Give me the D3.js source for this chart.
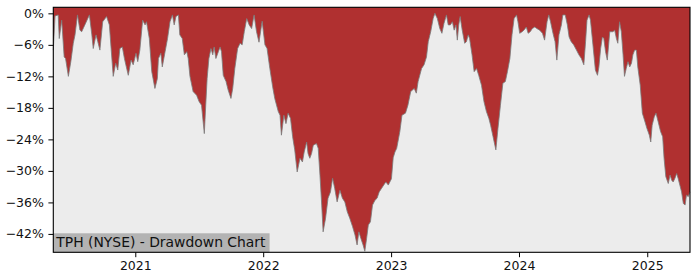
<!DOCTYPE html>
<html>
<head>
<meta charset="utf-8">
<script src="https://cdn.jsdelivr.net/npm/d3@7"></script>
<style>
body { margin: 0; background: #fff; }
svg { display: block; }
text { font-family: "DejaVu Sans", sans-serif; }
</style>
</head>
<body>
<div id="chart"></div>
<script>
// drawdown from running peak, in percent
var dates = [
	// 2020
	"2020-05-12","2020-05-17","2020-05-26","2020-05-29","2020-06-05","2020-06-12","2020-06-16","2020-06-24","2020-07-01","2020-07-08",
	"2020-07-13","2020-07-20","2020-07-27","2020-08-01","2020-08-10","2020-08-23","2020-08-30","2020-09-03","2020-09-11","2020-09-16",
	"2020-09-22","2020-09-30","2020-10-11","2020-10-19","2020-10-24","2020-10-30","2020-11-06","2020-11-12","2020-11-18","2020-11-25",
	"2020-12-01","2020-12-05","2020-12-12","2020-12-20","2020-12-26",
	// 2021
	"2021-01-03","2021-01-08","2021-01-14","2021-01-22","2021-01-29","2021-02-02","2021-02-10","2021-02-17","2021-02-26","2021-03-05",
	"2021-03-08","2021-03-15","2021-03-19","2021-03-27","2021-04-03","2021-04-10","2021-04-17","2021-04-22","2021-04-27","2021-05-04",
	"2021-05-08","2021-05-15","2021-05-21","2021-05-28","2021-06-01","2021-06-06","2021-06-15","2021-06-25","2021-07-02","2021-07-09",
	"2021-07-17","2021-07-21","2021-07-25","2021-07-30","2021-08-05","2021-08-10","2021-08-14","2021-08-19","2021-08-26","2021-08-31",
	"2021-09-04","2021-09-09","2021-09-17","2021-09-23","2021-10-01","2021-10-06","2021-10-12","2021-10-20","2021-10-27","2021-11-02",
	"2021-11-08","2021-11-15","2021-11-22","2021-11-29","2021-12-06","2021-12-13","2021-12-20","2021-12-29",
	// 2022
	"2022-01-06","2022-01-12","2022-01-20","2022-01-28","2022-02-03","2022-02-13","2022-02-18","2022-02-22","2022-03-01","2022-03-07",
	"2022-03-13","2022-03-20","2022-03-26","2022-04-01","2022-04-08","2022-04-16","2022-04-23","2022-04-28","2022-05-05","2022-05-09",
	"2022-05-14","2022-05-19","2022-05-24","2022-06-02","2022-06-07","2022-06-12","2022-06-17","2022-06-21","2022-06-28","2022-07-05",
	"2022-07-12","2022-07-18","2022-07-24","2022-07-31","2022-08-08","2022-08-15","2022-08-22","2022-08-29","2022-09-05","2022-09-13",
	"2022-09-20","2022-09-26","2022-10-01","2022-10-07","2022-10-13","2022-10-18","2022-10-23","2022-10-28","2022-11-03","2022-11-09",
	"2022-11-16","2022-11-22","2022-11-28","2022-12-05","2022-12-11","2022-12-17","2022-12-24",
	// 2023
	"2023-01-02","2023-01-07","2023-01-12","2023-01-17","2023-01-26","2023-02-01","2023-02-11","2023-02-18","2023-02-26","2023-03-08",
	"2023-03-14","2023-03-19","2023-03-29","2023-04-05","2023-04-12","2023-04-17","2023-04-24","2023-05-01","2023-05-06","2023-05-13",
	"2023-05-20","2023-05-26","2023-06-01","2023-06-08","2023-06-13","2023-06-19","2023-06-25","2023-06-30","2023-07-05","2023-07-09",
	"2023-07-13","2023-07-17","2023-07-23","2023-07-30","2023-08-04","2023-08-09","2023-08-13","2023-08-20","2023-08-26","2023-09-02",
	"2023-09-08","2023-09-16","2023-09-23","2023-09-30","2023-10-07","2023-10-12","2023-10-19","2023-10-27","2023-11-02","2023-11-09",
	"2023-11-16","2023-11-23","2023-11-29","2023-12-06","2023-12-12","2023-12-18","2023-12-25","2023-12-29",
	// 2024
	"2024-01-03","2024-01-10","2024-01-15","2024-01-22","2024-01-27","2024-02-02","2024-02-08","2024-02-15","2024-02-21","2024-02-29",
	"2024-03-08","2024-03-14","2024-03-21","2024-03-26","2024-03-31","2024-04-07","2024-04-13","2024-04-18","2024-04-24","2024-05-01",
	"2024-05-05","2024-05-12","2024-05-18","2024-05-23","2024-05-29","2024-06-05","2024-06-13","2024-06-20","2024-06-27","2024-07-04",
	"2024-07-09","2024-07-13","2024-07-19","2024-07-23","2024-07-30","2024-08-06","2024-08-12","2024-08-16","2024-08-21","2024-08-26",
	"2024-08-30","2024-09-04","2024-09-09","2024-09-16","2024-09-25","2024-09-30","2024-10-05","2024-10-09","2024-10-14","2024-10-19",
	"2024-10-24","2024-10-28","2024-11-02","2024-11-07","2024-11-12","2024-11-17","2024-11-21","2024-11-26","2024-12-01","2024-12-05",
	"2024-12-12","2024-12-18","2024-12-24","2024-12-31",
	// 2025
	"2025-01-07","2025-01-11","2025-01-15","2025-01-21","2025-01-26","2025-02-01","2025-02-08","2025-02-14","2025-02-18","2025-02-23",
	"2025-03-02","2025-03-07","2025-03-12","2025-03-16","2025-03-21","2025-03-26","2025-03-30","2025-04-04","2025-04-09","2025-04-14",
	"2025-04-19","2025-04-23","2025-04-28","2025-05-03"
]

var drawdown = [
	// 2020
	-7.0,-0.5,-0.3,-4.8,-1.3,-8.3,-8.6,-12.0,-9.2,-5.7,
	-4.1,-0.3,-3.2,-3.5,-2.2,-0.3,-4.1,-6.7,-4.1,-5.4,
	-7.0,-1.6,-0.6,-2.2,-6.7,-12.0,-9.5,-10.8,-6.7,-6.4,
	-8.6,-9.8,-11.8,-8.9,-9.8,
	// 2021
	-7.6,-9.2,-7.0,-1.3,-2.2,-1.6,-4.8,-11.1,-14.3,-12.4,
	-8.6,-7.6,-10.2,-7.3,-4.8,-1.6,-0.3,-2.2,-0.6,-0.3,
	-4.1,-4.8,-7.9,-7.3,-8.6,-12.0,-14.9,-15.6,-16.8,-17.5,
	-22.9,-17.5,-12.4,-8.6,-6.7,-7.9,-6.4,-8.6,-7.3,-6.4,
	-7.3,-11.8,-13.0,-14.6,-16.2,-14.3,-10.5,-6.7,-5.7,-6.0,
	-3.5,-1.0,-2.2,-2.9,-0.3,-3.5,-5.5,-1.5,
	// 2022
	-6.0,-6.7,-10.5,-14.0,-16.2,-18.7,-19.4,-23.2,-19.4,-21.0,
	-19.0,-20.0,-23.5,-26.0,-30.2,-27.6,-28.3,-26.4,-24.5,-26.7,
	-27.6,-26.7,-25.1,-24.8,-25.7,-30.8,-36.5,-41.6,-39.0,-35.2,
	-34.0,-31.4,-33.3,-35.9,-33.7,-35.2,-35.9,-37.8,-39.0,-40.6,
	-42.2,-44.1,-41.6,-42.9,-44.1,-45.3,-42.9,-40.3,-39.7,-36.5,
	-35.6,-35.2,-34.0,-33.3,-32.7,-32.1,-32.7,
	// 2023
	-31.5,-27.5,-26.4,-25.7,-22.5,-19.4,-19.0,-17.5,-14.9,-14.3,
	-15.2,-13.0,-10.5,-9.8,-8.3,-5.4,-3.5,-1.0,0,-1.0,
	-2.9,-3.8,-1.9,-0.3,-2.2,-2.2,-1.6,-3.2,-2.2,-5.1,
	-2.2,-0.6,-3.2,-5.7,-5.4,-4.1,-4.8,-7.9,-11.1,-10.5,
	-11.8,-13.7,-16.8,-18.7,-20.0,-21.3,-23.5,-26.0,-21.9,-17.5,
	-13.3,-13.0,-11.1,-8.6,-4.1,-1.0,-0.3,-1.6,
	// 2024
	-3.8,-3.5,-3.2,-2.6,-3.8,-3.5,-2.9,-2.6,-2.9,-3.2,
	-3.8,-5.1,-1.6,-0.3,-1.6,-3.8,-5.4,-8.9,-4.1,-2.2,
	-0.3,-0.3,-2.2,-4.5,-5.4,-6.0,-7.0,-7.9,-8.6,-9.8,
	-5.4,-1.3,-0.3,-1.3,-6.0,-10.8,-11.8,-10.2,-6.7,-4.5,
	-4.8,-7.3,-8.9,-3.5,-3.5,-3.2,-4.8,-5.7,-1.6,-3.5,
	-7.9,-12.0,-10.5,-9.2,-10.2,-9.5,-7.9,-7.0,-7.0,-10.2,
	-13.7,-19.0,-20.3,-21.9,
	// 2025
	-23.2,-24.5,-21.3,-19.7,-19.0,-20.6,-22.5,-23.5,-27.6,-31.1,
	-32.4,-30.8,-31.8,-32.1,-31.4,-30.5,-31.4,-32.7,-34.0,-36.2,
	-36.5,-34.6,-34.9,-34.0
]

var yTicks = [0, -6, -12, -18, -24, -30, -36, -42]
var xTicks = ["2021-01-01", "2022-01-01", "2023-01-01", "2024-01-01", "2025-01-01"]
var yLimits = [-45.5, 1.15]
var title = "TPH (NYSE) - Drawdown Chart"

var width = 700
var height = 280
var margin = {top: 7.3, right: 10, bottom: 27.7, left: 53.3}

var parse = d3.timeParse("%Y-%m-%d")
var rows = dates.map(function(d, i) { return {date: parse(d), value: drawdown[i]} })

var svg = d3.select("#chart")
			.append("svg")
			.attr("width", width)
			.attr("height", height)

var x = d3.scaleTime()
	.domain(d3.extent(rows, function(d) { return d.date }))
	.range([margin.left, width - margin.right])

var y = d3.scaleLinear()
	.domain(yLimits)
	.range([height - margin.bottom, margin.top])

// plot background
svg.append("rect")
	.attr("x", margin.left)
	.attr("y", margin.top)
	.attr("width", width - margin.left - margin.right)
	.attr("height", height - margin.top - margin.bottom)
	.attr("fill", "#ececec")

// red area hangs from the top of the plot down to the drawdown
var area = d3.area()
	.x(function(d) { return x(d.date) })
	.y0(margin.top)
	.y1(function(d) { return y(d.value) })

svg.append("path")
	.datum(rows)
	.attr("d", area)
	.attr("fill", "#b03030")

var line = d3.line()
	.x(function(d) { return x(d.date) })
	.y(function(d) { return y(d.value) })

svg.append("path")
	.datum(rows)
	.attr("d", line)
	.attr("fill", "none")
	.attr("stroke", "#7a7a7a")
	.attr("stroke-width", 1)
	.attr("stroke-opacity", 0.8)

// label box in the lower left corner
var label = svg.append("g")
var labelBox = label.append("rect")
var labelText = label.append("text")
	.attr("x", margin.left + 3)
	.attr("y", height - margin.bottom - 5.5)
	.attr("font-size", "13.9px")
	.attr("fill", "#111")
	.text(title)
var bb = labelText.node().getBBox()
labelBox
	.attr("x", margin.left)
	.attr("y", height - margin.bottom - 19)
	.attr("width", bb.width + 5.5)
	.attr("height", 19)
	.attr("fill", "#b3b3b3")

// axes
function pct(v) {
	if (v === 0) return "0%"
	return "\u2212" + Math.abs(v) + "%"
}

var yAxis = svg.append("g")
	.attr("transform", "translate(" + margin.left + ",0)")
	.call(d3.axisLeft(y).tickValues(yTicks).tickFormat(pct).tickSize(4.9).tickPadding(4.5))

var xAxis = svg.append("g")
	.attr("transform", "translate(0," + (height - margin.bottom) + ")")
	.call(d3.axisBottom(x).tickValues(xTicks.map(parse)).tickFormat(d3.timeFormat("%Y")).tickSize(4.9).tickPadding(3.5))

svg.selectAll(".tick text")
	.attr("font-family", "DejaVu Sans")
	.attr("font-size", "12.5px")
	.attr("fill", "#111")
svg.selectAll(".tick line").attr("stroke", "#000").attr("stroke-width", 1)
svg.selectAll(".domain").remove()

// frame
svg.append("rect")
	.attr("x", margin.left)
	.attr("y", margin.top)
	.attr("width", width - margin.left - margin.right)
	.attr("height", height - margin.top - margin.bottom)
	.attr("fill", "none")
	.attr("stroke", "#000")
	.attr("stroke-width", 1.1)
</script>
</body>
</html>
